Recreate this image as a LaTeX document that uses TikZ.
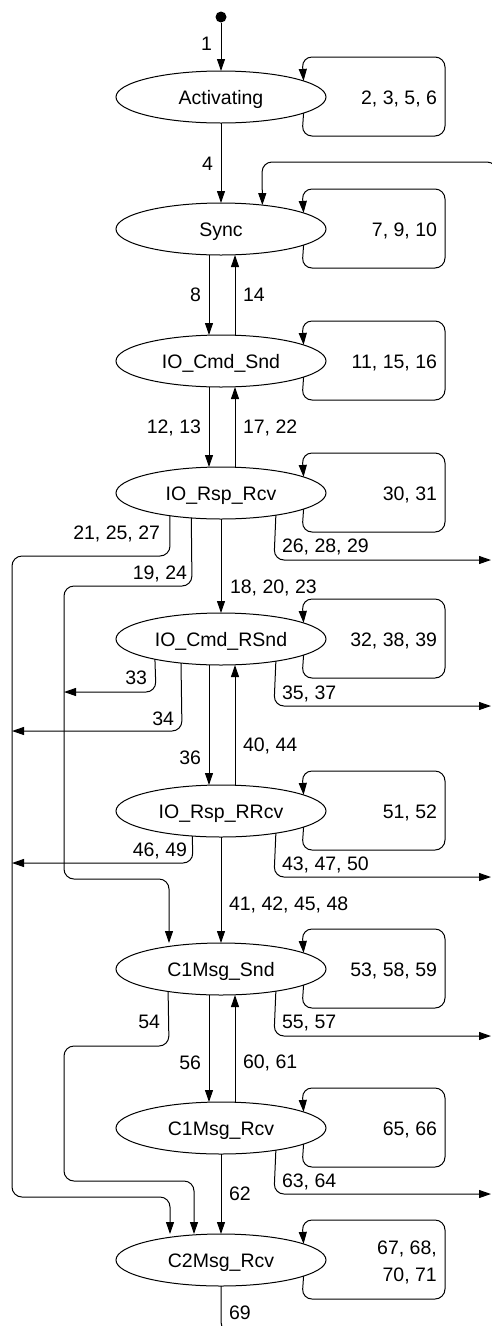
\documentclass[tikz,border=0pt]{standalone}
\usepackage{fontspec}
\setmainfont{Liberation Sans}
\usetikzlibrary{shapes.geometric,arrows.meta}
\newcommand\selfloop[3]{%
  \draw[conn] (#1.-11.5) -- (302,#2+39) -- (445,#2+39) -- (445,#2-40) -- (302,#2-40) -- (#1.11.5);
  \node[lb,anchor=east] at (437,#2) {#3};}
\begin{document}
\begin{tikzpicture}[x=1pt,y=-1pt,
  lb/.style={font=\fontsize{19.5}{27}\selectfont, inner sep=0pt, outer sep=0pt, text height=14pt, text depth=0pt},
  state/.style={draw, ellipse, minimum width=210pt, minimum height=52pt, inner sep=0pt, outer sep=0pt, line width=1pt, font=\fontsize{19.5}{27}\selectfont, text height=14pt, text depth=0pt},
  conn/.style={line width=1pt, rounded corners=10pt, -{Triangle[length=12pt,width=8pt]}},
  plain/.style={line width=1pt, rounded corners=10pt},
  startdot/.style={circle, fill=black, minimum size=11pt, inner sep=0pt, outer sep=0pt}
]
\useasboundingbox (0,0) rectangle (491,1326);
\fill[white] (0,0) rectangle (491,1326);

\node[startdot] (start) at (221,17) {};
\node[state] (Act) at (221,97) {Activating};
\node[state] (Sync) at (221,229) {Sync};
\node[state] (IOCmd) at (221,361) {IO\_Cmd\_Snd};
\node[state] (IORsp) at (221,493) {IO\_Rsp\_Rcv};
\node[state] (IOCmdR) at (221,639) {IO\_Cmd\_RSnd};
\node[state] (IORspR) at (221,811) {IO\_Rsp\_RRcv};
\node[state] (C1Snd) at (221,969) {C1Msg\_Snd};
\node[state] (C1Rcv) at (221,1128) {C1Msg\_Rcv};
\node[state] (C2) at (221,1260) {C2Msg\_Rcv};

% self loops
\selfloop{Act}{97}{2, 3, 5, 6}
\selfloop{Sync}{229}{7, 9, 10}
\selfloop{IOCmd}{361}{11, 15, 16}
\selfloop{IORsp}{493}{30, 31}
\selfloop{IOCmdR}{639}{32, 38, 39}
\selfloop{IORspR}{811}{51, 52}
\selfloop{C1Snd}{969}{53, 58, 59}
\selfloop{C1Rcv}{1128}{65, 66}
\draw[conn] (C2.-11.5) -- (302,1299) -- (445,1299) -- (445,1220) -- (302,1220) -- (C2.11.5);
\node[font=\fontsize{19.5}{27}\selectfont, inner sep=0pt, align=right, anchor=east] at (437,1262) {67, 68,\\70, 71};

% start
\draw[conn] (start) -- (Act);
\node[lb,anchor=east] at (212,43) {1};

% Sync incoming from the right
\coordinate (syncin) at (497,192);
\draw[conn] (syncin) -- (497,162) -- (262,162) -- (Sync.30.3);

% vertical transitions
\draw[conn] (Act) -- (Sync);
\node[lb,anchor=east] at (213,163) {4};
\draw[conn] (Sync.south -| 209,0) -- (IOCmd.north -| 209,0);
\node[lb,anchor=east] at (201,294) {8};
\draw[conn] (IOCmd.north -| 235,0) -- (Sync.south -| 235,0);
\node[lb,anchor=west] at (243,294) {14};
\draw[conn] (IOCmd.south -| 209,0) -- (IORsp.north -| 209,0);
\node[lb,anchor=east] at (201,426) {12, 13};
\draw[conn] (IORsp.north -| 235,0) -- (IOCmd.south -| 235,0);
\node[lb,anchor=west] at (243,426) {17, 22};
\draw[conn] (IORsp) -- (IOCmdR);
\node[lb,anchor=west] at (230,586) {18, 20, 23};
\draw[conn] (IOCmdR.south -| 209,0) -- (IORspR.north -| 209,0);
\node[lb,anchor=east] at (201,757) {36};
\draw[conn] (IORspR.north -| 235,0) -- (IOCmdR.south -| 235,0);
\node[lb,anchor=west] at (243,744) {40, 44};
\draw[conn] (IORspR) -- (C1Snd);
\node[lb,anchor=west] at (229,903) {41, 42, 45, 48};
\draw[conn] (C1Snd.south -| 209,0) -- (C1Rcv.north -| 209,0);
\node[lb,anchor=east] at (201,1062) {56};
\draw[conn] (C1Rcv.north -| 235,0) -- (C1Snd.south -| 235,0);
\node[lb,anchor=west] at (243,1061) {60, 61};
\draw[conn] (C1Rcv) -- (C2);
\node[lb,anchor=west] at (229,1193) {62};
\coordinate (c2out) at (262,1332);
\draw[plain] (C2.south) -- (221,1332) -- (c2out);
\node[lb,anchor=west] at (229,1312) {69};

% left routes
\draw[conn] (IORsp.-156) -- (170,556) -- (12,556) -- (12,1197) -- (170,1197) -- (C2.north -| 170,0);
\node[lb,anchor=east] at (160,532) {21, 25, 27};
\draw[conn] (IORsp.220.8) -- (192,586) -- (64,586) -- (64,879) -- (169,879) -- (C1Snd.north -| 169,0);
\node[lb,anchor=east] at (187,572) {19, 24};
\coordinate (l33) at (64,692);
\draw[conn] (IOCmdR.197.4) -- (156,692) -- (l33);
\node[lb,anchor=east] at (147,677) {33};
\coordinate (l34) at (12,731);
\draw[conn] (IOCmdR.211.7) -- (182,731) -- (l34);
\node[lb,anchor=east] at (174,718) {34};
\coordinate (l46) at (12,863);
\draw[conn] (IORspR.221.8) -- (193,863) -- (l46);
\node[lb,anchor=east] at (187,849) {46, 49};
\draw[conn] (C1Snd.203.5) -- (169,1046) -- (64,1046) -- (64,1181) -- (194,1181) -- (C2.north -| 194,0);
\node[lb,anchor=east] at (160,1021) {54};

% right exits
\coordinate (r1) at (491,560);
\draw[conn] (IORsp.-22.9) -- (274,560) -- (r1);
\node[lb,anchor=west] at (282,545) {26, 28, 29};
\coordinate (r2) at (491,706);
\draw[conn] (IOCmdR.-22.9) -- (274,706) -- (r2);
\node[lb,anchor=west] at (282,692) {35, 37};
\coordinate (r3) at (491,877);
\draw[conn] (IORspR.-22.9) -- (274,877) -- (r3);
\node[lb,anchor=west] at (282,863) {43, 47, 50};
\coordinate (r4) at (491,1036);
\draw[conn] (C1Snd.-22.9) -- (274,1036) -- (r4);
\node[lb,anchor=west] at (282,1021) {55, 57};
\coordinate (r5) at (491,1194);
\draw[conn] (C1Rcv.-22.9) -- (274,1194) -- (r5);
\node[lb,anchor=west] at (282,1180) {63, 64};
\end{tikzpicture}
\end{document}
